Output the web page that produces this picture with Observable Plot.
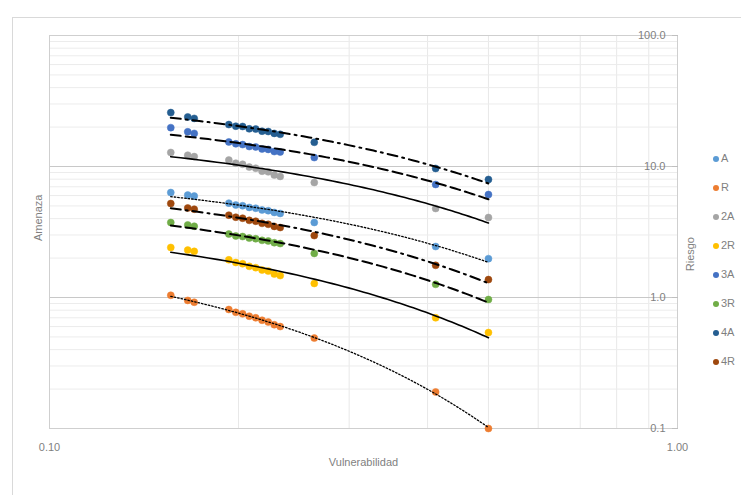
<!DOCTYPE html>
<html><head><meta charset="utf-8">
<script src="https://cdn.jsdelivr.net/npm/d3@7"></script>
<script src="https://cdn.jsdelivr.net/npm/@observablehq/plot@0.6"></script>
<style>
html,body{margin:0;padding:0;background:#fff;}
body{width:741px;height:495px;overflow:hidden;position:relative;font-family:"Liberation Sans",Arial,sans-serif;}
#border{position:absolute;left:12px;top:17px;width:800px;height:600px;border:1px solid #d9d9d9;}
#chart{position:absolute;left:0;top:0;}
#legend{position:absolute;left:0;top:0;}
.item{position:absolute;left:713px;font-size:11px;color:#7f7f7f;line-height:12px;white-space:nowrap;}
.item span.m{display:inline-block;width:6px;height:6px;border-radius:50%;margin-right:2px;vertical-align:middle;}
</style></head>
<body>
<div id="border"></div>
<div id="chart"></div>
<div id="legend"></div>
<script>
// Data
const seriesNames = ["A", "R", "2A", "2R", "3A", "3R", "4A", "4R"];
const seriesColors = ["#5B9BD5", "#ED7D31", "#A5A5A5", "#FFC000", "#4472C4", "#70AD47", "#255E91", "#9E480E"];
const xVals = [0.156, 0.166, 0.170, 0.193, 0.198, 0.203, 0.208, 0.213, 0.218, 0.223, 0.228, 0.233, 0.264, 0.412, 0.500];
const A  = [6.33, 6.05, 5.95, 5.25, 5.08, 5.02, 4.87, 4.80, 4.66, 4.60, 4.46, 4.38, 3.74, 2.45, 1.98];
const R  = [1.04, 0.95, 0.92, 0.81, 0.77, 0.75, 0.72, 0.70, 0.67, 0.65, 0.62, 0.60, 0.49, 0.19, 0.10];
const A2 = [12.8, 12.2, 11.9, 11.2, 10.6, 10.4, 9.9, 9.7, 9.2, 9.1, 8.6, 8.4, 7.55, 4.78, 4.08];
const R2 = [2.41, 2.30, 2.25, 1.94, 1.85, 1.81, 1.73, 1.69, 1.62, 1.59, 1.51, 1.47, 1.28, 0.70, 0.54];
const A3 = [19.8, 18.4, 17.9, 15.4, 14.9, 14.7, 14.2, 14.1, 13.6, 13.5, 13.0, 12.9, 11.7, 7.29, 6.11];
const R3 = [3.74, 3.58, 3.50, 3.05, 2.95, 2.92, 2.84, 2.81, 2.73, 2.70, 2.62, 2.58, 2.17, 1.26, 0.965];
const A4 = [25.8, 23.9, 23.3, 20.9, 20.3, 20.2, 19.4, 19.3, 18.6, 18.5, 17.9, 17.6, 15.3, 9.66, 7.96];
const R4 = [5.22, 4.82, 4.72, 4.25, 4.10, 4.03, 3.88, 3.82, 3.68, 3.62, 3.49, 3.42, 2.97, 1.76, 1.37];
const seriesValues = [A, R, A2, R2, A3, R3, A4, R4];
// trendline style per series (A/R: dotted, 2A/2R: solid, 3A/3R: long dash, 4A/4R: long dash dot)
const trendDash = ["1.5,2", "1.5,2", null, null, "10,5", "10,5", "10,5,2,5", "10,5,2,5"];
const trendWidth = [1.3, 1.3, 1.6, 1.6, 2, 2, 2, 2];

const xMajor = [0.1, 1];
const xMinor = [0.2, 0.3, 0.4, 0.5, 0.6, 0.7, 0.8, 0.9];
const yMajor = [0.1, 1, 10, 100];
const yMinor = [0.2,0.3,0.4,0.5,0.6,0.7,0.8,0.9, 2,3,4,5,6,7,8,9, 20,30,40,50,60,70,80,90];

const rows = [];
seriesNames.forEach((s, k) => seriesValues[k].forEach((v, i) => rows.push({series: s, k, x: xVals[i], y: v})));

// Exponential trendline (least squares on ln y), like Excel
function expTrend(k) {
  const pts = rows.filter(r => r.k === k);
  const n = pts.length;
  let sx = 0, sy = 0, sxx = 0, sxy = 0;
  for (const p of pts) { const ly = Math.log(p.y); sx += p.x; sy += ly; sxx += p.x * p.x; sxy += p.x * ly; }
  const b = (n * sxy - sx * sy) / (n * sxx - sx * sx);
  const a = Math.exp((sy - b * sx) / n);
  const [x0, x1] = d3.extent(pts, p => p.x);
  return d3.range(0, 61).map(j => { const x = x0 + (x1 - x0) * j / 60; return {x, y: a * Math.exp(b * x)}; });
}

const trendMarks = seriesNames.map((s, k) => Plot.line(expTrend(k), {
  x: "x", y: "y", stroke: "#000", strokeWidth: trendWidth[k],
  strokeDasharray: trendDash[k] || undefined
}));

const chart = Plot.plot({
  width: 741, height: 495,
  marginLeft: 49, marginRight: 64, marginTop: 35, marginBottom: 67,
  x: {type: "log", domain: [0.1, 1]},
  y: {type: "log", domain: [0.1, 100]},
  style: {fontFamily: "'Liberation Sans', Arial, sans-serif", fontSize: "11px", color: "#7f7f7f", background: "transparent", overflow: "visible"},
  marks: [
    Plot.gridX(xMinor, {stroke: "#e8e8e8", strokeOpacity: 1}),
    Plot.gridY(yMinor, {stroke: "#ececec", strokeOpacity: 1}),
    Plot.gridY(yMajor, {stroke: "#c8c8c8", strokeOpacity: 1}),
    Plot.frame({stroke: "#cfcfcf"}),
    Plot.dot(rows, {x: "x", y: "y", r: 3.5, fill: d => seriesColors[d.k], stroke: d => seriesColors[d.k], strokeWidth: 0.5}),
    ...trendMarks,
    Plot.axisX(xMajor, {tickSize: 0, tickPadding: 15, tickFormat: d3.format(".2f"), label: null}),
    Plot.axisY(yMajor, {anchor: "right", tickSize: 6, insetRight: 6, tickPadding: -12, textAnchor: "end", tickFormat: d3.format(".1f"), label: null, stroke: "#bfbfbf"}),
    Plot.text(["Vulnerabilidad"], {text: d => d, frameAnchor: "bottom", dy: 37, fill: "#7f7f7f"}),
    Plot.text(["Amenaza"], {text: d => d, frameAnchor: "left", rotate: -90, dx: -11, dy: 9, fill: "#7f7f7f"}),
    Plot.text(["Riesgo"], {text: d => d, frameAnchor: "right", rotate: -90, dx: 13, dy: 5, fill: "#7f7f7f"})
  ]
});
document.getElementById("chart").appendChild(chart);

const legend = document.getElementById("legend");
seriesNames.forEach((s, k) => {
  const div = document.createElement("div");
  div.className = "item";
  div.style.top = (152 + k * 29) + "px";
  div.innerHTML = `<span class="m" style="background:${seriesColors[k]}"></span>${s}`;
  legend.appendChild(div);
});
</script>
</body></html>
